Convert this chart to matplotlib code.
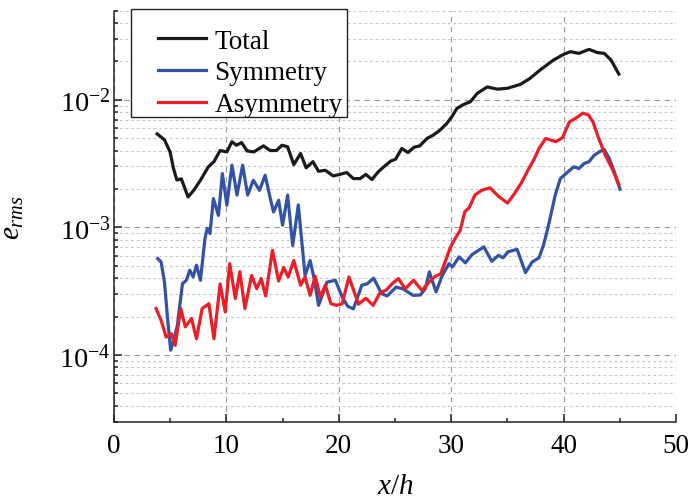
import matplotlib
matplotlib.use("Agg")
import matplotlib.pyplot as plt
from matplotlib.patches import Rectangle
from matplotlib.ticker import LogLocator, MultipleLocator, NullFormatter, LogFormatterMathtext

plt.rcParams['font.family'] = ['Liberation Serif', 'DejaVu Serif']
plt.rcParams['mathtext.fontset'] = 'custom'
plt.rcParams['mathtext.rm'] = 'Liberation Serif'
plt.rcParams['mathtext.it'] = 'Liberation Serif:italic'
plt.rcParams['font.size'] = 19.5

# rms error along the streamwise direction
total_x = [3.85, 4.5, 5.0, 5.3, 5.6, 6.0, 6.6, 7.1, 7.7, 8.4, 8.9, 9.45, 10.05, 10.5,
           10.9, 11.35, 11.85, 12.45, 13.3, 13.9, 14.45, 14.95, 15.45, 16.0, 16.6,
           17.1, 17.7, 18.2, 18.8, 19.5, 20.1, 20.7, 21.3, 21.9, 22.4, 22.95, 23.5,
           24.0, 24.6, 25.05, 25.6, 26.15, 26.7, 27.2, 27.85, 28.4, 29.0, 29.6, 30.05,
           30.5, 31.1, 31.7, 32.3, 33.2, 34.1, 35.0, 36.15, 37.0, 37.9, 39.1, 40.0,
           40.6, 41.35, 42.25, 43.0, 43.6, 44.2, 44.9]
total_e = [5.4e-3, 4.85e-3, 3.9e-3, 2.9e-3, 2.35e-3, 2.4e-3, 1.73e-3, 1.95e-3, 2.34e-3,
           2.98e-3, 3.27e-3, 4.0e-3, 3.9e-3, 4.69e-3, 4.4e-3, 4.62e-3, 3.97e-3, 3.9e-3,
           4.35e-3, 4.0e-3, 4.0e-3, 4.4e-3, 4.28e-3, 3.1e-3, 3.79e-3, 2.93e-3, 3.27e-3,
           2.75e-3, 2.8e-3, 2.53e-3, 2.6e-3, 2.69e-3, 2.41e-3, 2.41e-3, 2.6e-3, 2.37e-3,
           2.72e-3, 2.98e-3, 3.3e-3, 3.42e-3, 4.15e-3, 3.86e-3, 4.25e-3, 4.35e-3, 4.98e-3,
           5.28e-3, 5.78e-3, 6.52e-3, 7.36e-3, 8.55e-3, 9.18e-3, 9.64e-3, 1.12e-2,
           1.26e-2, 1.21e-2, 1.23e-2, 1.32e-2, 1.47e-2, 1.71e-2, 2.05e-2, 2.27e-2,
           2.38e-2, 2.31e-2, 2.48e-2, 2.34e-2, 2.31e-2, 2.05e-2, 1.59e-2]

sym_x = [3.9, 4.2, 4.5, 4.8, 5.05, 5.35, 5.65, 5.9, 6.1, 6.45, 6.75, 7.05, 7.35, 7.7,
         8.1, 8.3, 8.55, 8.85, 9.3, 9.65, 10.05, 10.5, 10.95, 11.45, 11.9, 12.4, 12.95,
         13.45, 13.9, 14.2, 14.65, 15.0, 15.45, 15.9, 16.4, 17.0, 17.45, 17.8, 18.2,
         18.95, 19.7, 20.3, 20.8, 21.3, 22.05, 22.5, 23.1, 23.8, 24.3, 25.1, 25.7,
         26.6, 27.25, 27.7, 28.05, 28.65, 29.2, 29.8, 30.1, 30.7, 31.25, 31.85, 32.9,
         33.6, 34.2, 34.6, 35.05, 35.85, 36.6, 37.2, 37.8, 38.2, 38.65, 39.25, 39.7,
         40.2, 40.9, 41.35, 41.8, 42.25, 42.7, 43.15, 43.6, 44.05, 44.5, 45.0]
sym_e = [5.69e-4, 5.36e-4, 3.74e-4, 1.82e-4, 1.09e-4, 1.34e-4, 1.71e-4, 2.6e-4, 3.62e-4,
         3.85e-4, 4.61e-4, 4.09e-4, 5.05e-4, 3.85e-4, 8.17e-4, 9.8e-4, 8.94e-4, 1.68e-3,
         1.24e-3, 2.64e-3, 1.49e-3, 3.07e-3, 1.79e-3, 3.07e-3, 1.79e-3, 2.34e-3, 1.95e-3,
         2.56e-3, 1.7e-3, 1.32e-3, 1.63e-3, 1.04e-3, 1.79e-3, 7.2e-4, 1.5e-3, 4.2e-4,
         5.5e-4, 4.0e-4, 2.45e-4, 3.72e-4, 3.85e-4, 2.85e-4, 2.4e-4, 2.3e-4, 3.52e-4,
         3.6e-4, 4.0e-4, 3.03e-4, 2.9e-4, 3.4e-4, 3.3e-4, 2.93e-4, 2.95e-4, 3.31e-4,
         4.48e-4, 3.12e-4, 4.2e-4, 5.2e-4, 4.9e-4, 5.87e-4, 5.27e-4, 6.12e-4, 7.03e-4,
         5.42e-4, 6.04e-4, 5.77e-4, 6.43e-4, 6.73e-4, 4.42e-4, 5.36e-4, 5.77e-4, 7.24e-4,
         1.04e-3, 1.8e-3, 2.41e-3, 2.64e-3, 2.98e-3, 2.89e-3, 3.16e-3, 3.27e-3, 3.67e-3,
         3.9e-3, 4.07e-3, 3.47e-3, 2.72e-3, 1.99e-3]

asym_x = [3.75, 4.2, 4.65, 5.1, 5.45, 5.95, 6.35, 6.9, 7.35, 7.85, 8.45, 8.9, 9.45, 9.9,
          10.3, 10.8, 11.2, 11.65, 12.25, 12.7, 13.1, 13.5, 14.1, 14.65, 15.1, 15.5,
          16.0, 16.6, 17.0, 17.45, 17.9, 18.35, 18.8, 19.3, 19.8, 20.3, 20.9, 21.75,
          22.4, 23.05, 23.7, 24.2, 24.75, 25.3, 25.9, 26.65, 27.4, 28.05, 28.6, 29.05,
          29.5, 29.9, 30.35, 30.8, 31.2, 31.6, 32.1, 32.7, 33.45, 34.2, 35.0, 35.55,
          36.2, 36.9, 37.4, 37.8, 38.4, 39.3, 39.9, 40.5, 41.1, 41.7, 42.2, 42.6, 43.1,
          43.7, 44.3, 44.9]
asym_e = [2.31e-4, 1.87e-4, 1.38e-4, 1.47e-4, 1.19e-4, 2.31e-4, 1.66e-4, 1.93e-4, 1.34e-4,
          2.31e-4, 2.52e-4, 1.34e-4, 3.6e-4, 2.17e-4, 5.2e-4, 2.77e-4, 4.5e-4, 2.31e-4,
          4.2e-4, 3.31e-4, 3.97e-4, 2.9e-4, 6.6e-4, 3.8e-4, 4.85e-4, 4.09e-4, 5.5e-4,
          3.52e-4, 4.09e-4, 2.93e-4, 4.15e-4, 2.85e-4, 3.52e-4, 2.52e-4, 2.45e-4, 2.52e-4,
          4.09e-4, 2.5e-4, 2.78e-4, 2.45e-4, 3.1e-4, 3.21e-4, 3.62e-4, 3.97e-4, 3.3e-4,
          3.85e-4, 3.2e-4, 3.74e-4, 4.15e-4, 4.3e-4, 5.5e-4, 6.9e-4, 8.2e-4, 9.5e-4,
          1.32e-3, 1.43e-3, 1.79e-3, 1.95e-3, 2.04e-3, 1.75e-3, 1.55e-3, 1.8e-3, 2.2e-3,
          2.89e-3, 3.47e-3, 4.15e-3, 4.97e-3, 4.69e-3, 5.05e-3, 6.7e-3, 7.2e-3, 7.85e-3,
          7.6e-3, 6.7e-3, 5.0e-3, 3.67e-3, 2.89e-3, 2.17e-3]

fig = plt.figure(figsize=(6.9, 5.02), dpi=100)
ax = fig.add_axes([0.165, 0.158, 0.815, 0.819])

ax.plot(total_x, total_e, color='#1a1a1a', lw=2.3, label='Total')
ax.plot(sym_x, sym_e, color='#3252a6', lw=2.3, label='Symmetry')
ax.plot(asym_x, asym_e, color='#ee1c25', lw=2.3, label='Asymmetry')

ax.set_yscale('log')
ax.set_xlim(0, 50)
ax.set_ylim(3e-5, 5e-2)

ax.xaxis.set_major_locator(MultipleLocator(10))
ax.xaxis.set_minor_locator(MultipleLocator(5))
ax.yaxis.set_major_locator(LogLocator(base=10))
ax.yaxis.set_minor_locator(LogLocator(base=10, subs=range(2, 10)))
ax.yaxis.set_major_formatter(LogFormatterMathtext())
ax.yaxis.set_minor_formatter(NullFormatter())

ax.tick_params(which='both', direction='in', width=1.1, color='#222222')
ax.tick_params(which='major', length=6)
ax.tick_params(which='minor', length=3)
ax.tick_params(axis='x', pad=8)
ax.tick_params(axis='y', pad=2, labelsize=20.5)

ax.grid(True, which='major', axis='both', color='#999999', ls=(0, (5, 4)), lw=0.8)
ax.grid(True, which='minor', axis='y', color='#c8c8c8', ls=(0, (2.5, 2.5)), lw=0.8)
ax.set_axisbelow(True)

for side in ['top', 'right']:
    ax.spines[side].set_visible(False)
for side in ['left', 'bottom']:
    ax.spines[side].set_linewidth(1.1)
    ax.spines[side].set_color('#222222')

ax.set_xlabel(r'$x/h$', labelpad=11, fontsize=21)
ax.set_ylabel(r'$e_{rms}$', labelpad=24, fontsize=21)

# legend box drawn by hand so the entries can sit further in from the left edge
frame = Rectangle((0.0302, 0.741), 0.3844, 0.263, transform=ax.transAxes,
                  facecolor='white', edgecolor='#222222', lw=1.0,
                  clip_on=False, zorder=4)
ax.add_patch(frame)
leg = ax.legend(loc='upper left', bbox_to_anchor=(0.0778, 0.956), borderaxespad=0,
                frameon=False, borderpad=0, fontsize=19.5,
                handlelength=1.8, handletextpad=0.3, labelspacing=0.25)
leg.set_zorder(5)

fig.savefig('out.png', dpi=100)
